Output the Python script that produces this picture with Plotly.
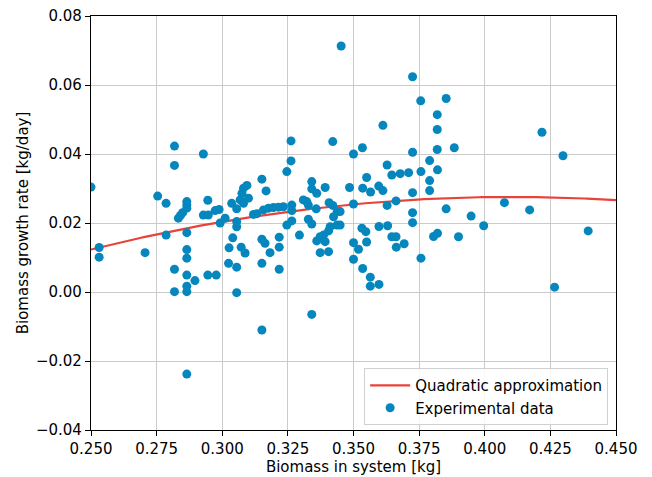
import numpy as np
import plotly.graph_objects as go

biomass = [
    0.2500, 0.2531, 0.2531, 0.2706, 0.2754, 0.2786, 0.2786, 0.2818, 0.2818, 0.2818,
    0.2818, 0.2833, 0.2841, 0.2849, 0.2865, 0.2865, 0.2865, 0.2865, 0.2865, 0.2865,
    0.2865, 0.2865, 0.2865, 0.2865, 0.2896, 0.2928, 0.2945, 0.2945, 0.2977, 0.2928,
    0.2947, 0.2973, 0.2988, 0.2992, 0.3011, 0.3026, 0.3024, 0.3040, 0.3055, 0.3055,
    0.3055, 0.3055, 0.3036, 0.3055, 0.3068, 0.3075, 0.3081, 0.3094, 0.3100, 0.3081,
    0.3072, 0.3087, 0.3119, 0.3132, 0.3151, 0.3151, 0.3151, 0.3151, 0.3167, 0.3157,
    0.3176, 0.3195, 0.3214, 0.3233, 0.3163, 0.3182, 0.3217, 0.3217, 0.3217, 0.3246,
    0.3262, 0.3262, 0.3265, 0.3265, 0.3246, 0.3265, 0.3294, 0.3309, 0.3322, 0.3328,
    0.3328, 0.3341, 0.3341, 0.3341, 0.3360, 0.3392, 0.3341, 0.3358, 0.3360, 0.3373,
    0.3386, 0.3392, 0.3405, 0.3411, 0.3373, 0.3405, 0.3407, 0.3421, 0.3438, 0.3424,
    0.3437, 0.3421, 0.3453, 0.3449, 0.3449, 0.3485, 0.3500, 0.3500, 0.3500, 0.3519,
    0.3500, 0.3534, 0.3535, 0.3565, 0.3550, 0.3532, 0.3547, 0.3550, 0.3535, 0.3564,
    0.3564, 0.3597, 0.3596, 0.3612, 0.3612, 0.3597, 0.3630, 0.3628, 0.3628, 0.3662,
    0.3646, 0.3678, 0.3710, 0.3646, 0.3662, 0.3663, 0.3693, 0.3725, 0.3725, 0.3725,
    0.3725, 0.3725, 0.3756, 0.3757, 0.3757, 0.3790, 0.3790, 0.3790, 0.3805, 0.3820,
    0.3819, 0.3819, 0.3819, 0.3820, 0.3853, 0.3853, 0.3884, 0.3900, 0.3948, 0.3996,
    0.4075, 0.4171, 0.4218, 0.4266, 0.4298, 0.4394,
]
growth_rate = [
    0.0304, 0.0129, 0.0101, 0.0114, 0.0278, 0.0257, 0.0165, 0.0423, 0.0367, 0.0066,
    0.0001, 0.0214, 0.0222, 0.0230, 0.0262, 0.0252, 0.0243, 0.0172, 0.0123, 0.0098,
    0.0049, 0.0017, 0.0001, -0.0238, 0.0033, 0.0400, 0.0266, 0.0049, 0.0049, 0.0223,
    0.0223, 0.0236, 0.0239, 0.0200, 0.0214, 0.0128, 0.0083, 0.0157, 0.0072, -0.0002,
    0.0204, 0.0189, 0.0257, 0.0241, 0.0267, 0.0286, 0.0301, 0.0309, 0.0272, 0.0257,
    0.0130, 0.0113, 0.0225, 0.0227, 0.0153, 0.0083, -0.0110, 0.0327, 0.0293, 0.0238,
    0.0243, 0.0245, 0.0246, 0.0247, 0.0141, 0.0114, 0.0159, 0.0130, 0.0066, 0.0349,
    0.0438, 0.0380, 0.0252, 0.0236, 0.0194, 0.0206, 0.0165, 0.0267, 0.0262, 0.0252,
    0.0211, 0.0197, 0.0320, 0.0299, 0.0286, 0.0303, -0.0065, 0.0241, 0.0148, 0.0160,
    0.0165, 0.0146, 0.0177, 0.0189, 0.0114, 0.0117, 0.0259, 0.0251, 0.0233, 0.0218,
    0.0194, 0.0436, 0.0713, 0.0233, 0.0194, 0.0303, 0.0400, 0.0255, 0.0143, 0.0124,
    0.0095, 0.0418, 0.0301, 0.0290, 0.0332, 0.0185, 0.0175, 0.0145, 0.0068, 0.0043,
    0.0017, 0.0022, 0.0307, 0.0294, 0.0483, 0.0190, 0.0192, 0.0368, 0.0251, 0.0264,
    0.0339, 0.0343, 0.0346, 0.0160, 0.0160, 0.0130, 0.0140, 0.0624, 0.0405, 0.0288,
    0.0230, 0.0201, 0.0554, 0.0349, 0.0098, 0.0381, 0.0323, 0.0294, 0.0161, 0.0170,
    0.0514, 0.0471, 0.0413, 0.0354, 0.0561, 0.0241, 0.0418, 0.0160, 0.0220, 0.0192,
    0.0259, 0.0238, 0.0463, 0.0014, 0.0395, 0.0177,
]

# Quadratic approximation coefficients (a*x^2 + b*x + c)
fit_coeffs = [-0.595, 0.488, -0.0725]

x_range = [0.25, 0.45]
y_range = [-0.04, 0.08]
x_ticks = [0.25, 0.275, 0.30, 0.325, 0.35, 0.375, 0.40, 0.425, 0.45]
y_ticks = [-0.04, -0.02, 0.0, 0.02, 0.04, 0.06, 0.08]
y_tick_text = ["\u22120.04", "\u22120.02", "0.00", "0.02", "0.04", "0.06", "0.08"]

x_fit = np.linspace(x_range[0], x_range[1], 200)
y_fit = np.polyval(fit_coeffs, x_fit)

font_family = "DejaVu Sans"
fs = 15
fig = go.Figure()
fig.add_trace(go.Scatter(
    x=x_fit, y=y_fit, mode="lines", name="Quadratic approximation",
    line=dict(color="#E8433A", width=2.2),
))
fig.add_trace(go.Scatter(
    x=biomass, y=growth_rate, mode="markers", name="Experimental data",
    marker=dict(color="#0587BD", size=9, line=dict(width=0)),
))

axis_common = dict(
    showline=True, linecolor="black", linewidth=1.2, mirror=True,
    ticks="outside", ticklen=5, tickcolor="black", tickwidth=1.2,
    showgrid=True, gridcolor="#CBCBCB", gridwidth=1,
    zeroline=False, ticklabeloverflow="allow",
    tickfont=dict(family=font_family, size=fs, color="black"),
)

fig.update_xaxes(
    range=x_range, tickvals=x_ticks, tickformat=".3f",
    title=dict(text="Biomass in system [kg]", font=dict(family=font_family, size=fs, color="black"), standoff=3),
    **axis_common,
)
fig.update_yaxes(
    range=y_range, tickvals=y_ticks, ticktext=y_tick_text,
    title=dict(text="Biomass growth rate [kg/day]", font=dict(family=font_family, size=fs, color="black"), standoff=3),
    **axis_common,
)

fig.update_layout(
    width=652, height=477,
    margin=dict(l=83, r=44, t=8, b=55, autoexpand=False),
    plot_bgcolor="white", paper_bgcolor="white",
    font=dict(family=font_family, size=fs, color="black"),
    legend=dict(
        x=0.985, y=0.012, xanchor="right", yanchor="bottom",
        bgcolor="rgba(255,255,255,0.85)", bordercolor="#D0D0D0", borderwidth=1,
        font=dict(family=font_family, size=fs, color="black"),
        tracegroupgap=0, itemwidth=40,
    ),
    showlegend=True,
)

fig.write_html("out.html")
